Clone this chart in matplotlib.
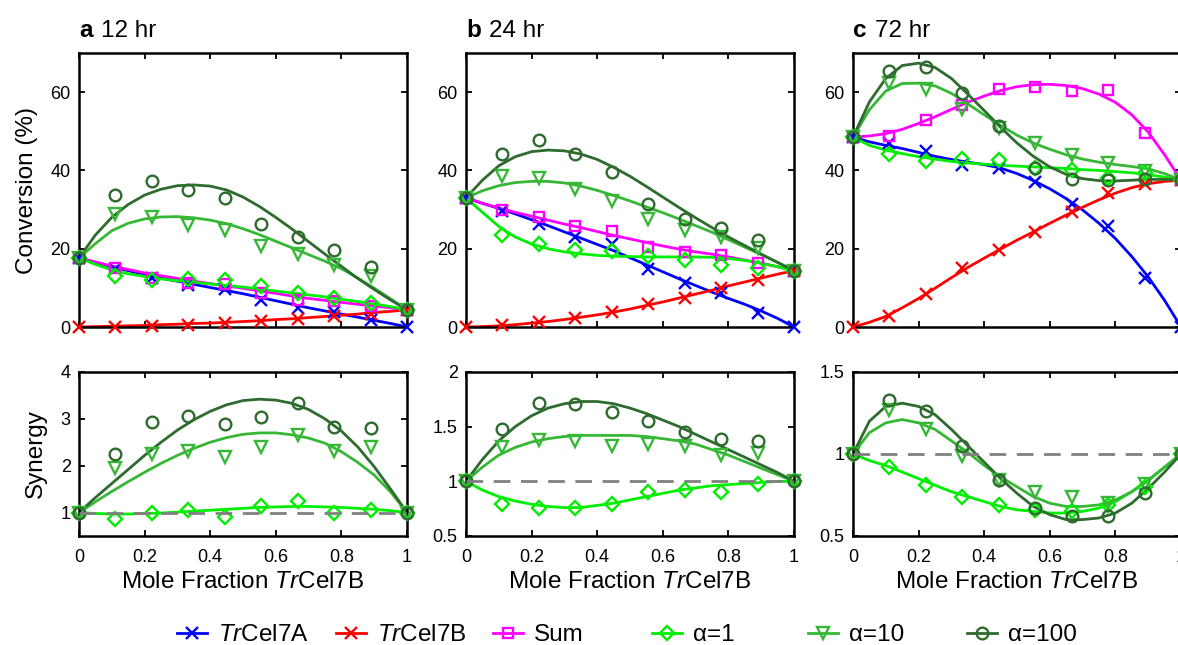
import numpy as np
import matplotlib.pyplot as plt
from matplotlib.lines import Line2D

plt.rcParams['font.family'] = ['Liberation Sans', 'DejaVu Sans']
plt.rcParams['mathtext.fontset'] = 'custom'
plt.rcParams['mathtext.rm'] = 'Liberation Sans'
plt.rcParams['mathtext.it'] = 'Liberation Sans:italic'
plt.rcParams['mathtext.bf'] = 'Liberation Sans:bold'

# mole fraction TrCel7B: measured points and fitted-curve samples
x_pts = [0, 1/9, 2/9, 3/9, 4/9, 5/9, 6/9, 7/9, 8/9, 1]
x_fit = [0.0, 0.05, 0.1, 0.15, 0.2, 0.25, 0.3, 0.35, 0.4, 0.45, 0.5,
         0.55, 0.6, 0.65, 0.7, 0.75, 0.8, 0.85, 0.9, 0.95, 1.0]

# ---- conversion (%) 12 hr
c12_cel7a = [17.6, 14.9, 12.4, 10.8, 9.7, 7.0, 4.9, 3.8, 1.9, 0.0]
c12_cel7a_fit = [17.6, 16.5, 15.4, 14.4, 13.4, 12.5, 11.7, 10.9, 10.1, 9.3, 8.5,
                 7.6, 6.7, 5.8, 4.9, 4.1, 3.3, 2.5, 1.7, 0.9, 0.0]
c12_cel7b = [0.0, 0.1, 0.3, 0.6, 1.1, 1.6, 2.0, 2.8, 3.4, 4.4]
c12_cel7b_fit = [0.0, 0.1, 0.2, 0.3, 0.4, 0.6, 0.7, 0.9, 1.0, 1.2, 1.4,
                 1.6, 1.9, 2.1, 2.4, 2.7, 3.0, 3.3, 3.7, 4.0, 4.4]
c12_sum = [17.6, 15.0, 12.6, 11.2, 11.0, 8.6, 7.0, 6.6, 5.4, 4.4]
c12_sum_fit = [17.6, 16.6, 15.6, 14.7, 13.8, 13.1, 12.4, 11.7, 11.1, 10.5, 9.9,
               9.2, 8.6, 7.9, 7.3, 6.8, 6.3, 5.8, 5.4, 4.9, 4.4]
c12_a1 = [17.6, 13.0, 11.9, 12.3, 11.9, 10.4, 8.8, 7.4, 6.2, 4.4]
c12_a1_fit = [17.6, 16.0, 14.6, 13.6, 12.9, 12.3, 11.8, 11.4, 11.0, 10.6, 10.2,
              9.7, 9.2, 8.7, 8.2, 7.7, 7.1, 6.5, 5.9, 5.2, 4.4]
c12_a10 = [17.6, 28.9, 28.1, 26.1, 24.9, 20.8, 18.7, 15.9, 13.0, 4.4]
c12_a10_fit = [17.6, 21.3, 24.6, 26.5, 27.6, 28.1, 28.2, 27.9, 27.3, 26.4, 25.1,
               23.6, 21.9, 20.2, 18.5, 16.8, 14.9, 12.5, 9.9, 7.2, 4.4]
c12_a100 = [17.6, 33.6, 37.3, 35.0, 32.9, 26.4, 23.0, 19.6, 15.3, 4.4]
c12_a100_fit = [17.6, 23.5, 28.0, 31.3, 33.7, 35.2, 36.1, 36.3, 36.0, 35.0, 33.2,
                30.8, 28.0, 25.0, 21.8, 18.6, 15.5, 12.4, 9.6, 6.9, 4.4]

# ---- conversion (%) 24 hr
c24_cel7a = [33.0, 29.6, 26.2, 23.0, 21.1, 14.7, 11.3, 8.7, 3.6, 0.0]
c24_cel7a_fit = [33.0, 31.6, 30.3, 28.9, 27.4, 25.9, 24.3, 22.7, 21.1, 19.5, 17.7,
                 15.9, 14.1, 12.3, 10.6, 8.9, 7.3, 5.8, 4.1, 2.2, 0.0]
c24_cel7b = [0.0, 0.5, 1.4, 2.3, 3.8, 5.9, 7.4, 9.9, 12.1, 14.4]
c24_cel7b_fit = [0.0, 0.1, 0.3, 0.6, 1.0, 1.4, 1.9, 2.5, 3.1, 3.8, 4.6,
                 5.5, 6.4, 7.4, 8.4, 9.4, 10.5, 11.5, 12.5, 13.5, 14.4]
c24_sum = [33.0, 30.0, 28.1, 25.7, 24.5, 20.5, 19.2, 18.5, 16.4, 14.4]
c24_sum_fit = [33.0, 31.6, 30.4, 29.3, 28.3, 27.3, 26.3, 25.4, 24.4, 23.4, 22.5,
               21.6, 20.7, 19.9, 19.2, 18.6, 17.9, 17.1, 16.3, 15.4, 14.4]
c24_a1 = [33.0, 23.6, 21.1, 19.6, 19.5, 18.1, 17.2, 15.9, 15.1, 14.4]
c24_a1_fit = [33.0, 29.3, 25.7, 23.0, 21.2, 20.0, 19.2, 18.7, 18.3, 18.1, 18.0,
              17.9, 17.9, 17.9, 17.9, 17.8, 17.5, 17.0, 16.3, 15.4, 14.4]
c24_a10 = [33.0, 38.7, 38.1, 35.3, 32.1, 27.5, 24.9, 23.0, 20.2, 14.4]
c24_a10_fit = [33.0, 34.8, 36.1, 36.9, 37.2, 37.2, 36.8, 36.0, 34.9, 33.6, 32.2,
               30.7, 29.2, 27.6, 25.9, 24.2, 22.3, 20.4, 18.5, 16.5, 14.4]
c24_a100 = [33.0, 44.3, 47.9, 44.1, 39.6, 31.5, 27.6, 25.2, 22.2, 14.4]
c24_a100_fit = [33.0, 37.5, 41.2, 43.5, 44.8, 45.2, 45.0, 44.2, 42.8, 40.8, 38.5,
                35.9, 33.2, 30.5, 27.9, 25.4, 23.0, 20.8, 18.6, 16.5, 14.4]

# ---- conversion (%) 72 hr
c72_cel7a = [48.5, 47.0, 44.9, 41.5, 40.7, 37.0, 31.3, 25.7, 12.5, 0.0]
c72_cel7a_fit = [48.5, 47.3, 46.4, 45.6, 44.6, 43.6, 42.8, 42.1, 41.5, 40.6, 39.2,
                 37.4, 35.3, 32.8, 29.9, 26.5, 22.6, 18.0, 12.8, 6.8, 0.0]
c72_cel7b = [0.0, 2.7, 8.5, 15.1, 19.6, 24.2, 29.3, 34.3, 36.6, 37.5]
c72_cel7b_fit = [0.0, 1.2, 2.7, 4.9, 7.3, 9.9, 12.6, 15.2, 17.6, 19.9, 22.2,
                 24.3, 26.5, 28.6, 30.6, 32.5, 34.2, 35.6, 36.6, 37.2, 37.5]
c72_sum = [48.5, 48.9, 53.0, 56.6, 60.7, 61.4, 60.3, 60.5, 49.6, 37.5]
c72_sum_fit = [48.5, 48.8, 49.4, 50.5, 52.0, 53.7, 55.6, 57.4, 59.0, 60.4, 61.4,
               61.9, 62.0, 61.7, 60.9, 59.5, 57.4, 54.2, 49.8, 44.0, 37.5]
c72_a1 = [48.5, 44.3, 42.4, 42.8, 42.6, 40.7, 40.2, 38.1, 39.4, 37.5]
c72_a1_fit = [48.5, 46.4, 45.2, 44.3, 43.5, 42.9, 42.3, 41.9, 41.6, 41.3, 41.1,
              40.9, 40.7, 40.5, 40.2, 40.0, 39.7, 39.4, 38.9, 38.3, 37.5]
c72_a10 = [48.5, 62.4, 60.7, 55.6, 50.9, 47.1, 43.9, 41.9, 39.8, 37.5]
c72_a10_fit = [48.5, 55.5, 60.3, 62.2, 62.3, 61.6, 59.7, 57.0, 54.2, 51.5, 49.0,
               47.0, 45.4, 44.0, 42.9, 42.1, 41.5, 41.0, 40.4, 39.2, 37.5]
c72_a100 = [48.5, 65.4, 66.4, 59.8, 51.3, 40.7, 37.9, 37.5, 37.7, 37.5]
c72_a100_fit = [48.5, 57.5, 63.5, 66.8, 67.4, 66.3, 63.5, 59.5, 55.3, 51.0, 47.0,
                43.6, 40.9, 39.0, 37.9, 37.4, 37.3, 37.5, 37.7, 37.7, 37.5]

# ---- synergy
s12_a1 = [1.0, 0.86, 0.99, 1.06, 0.91, 1.14, 1.24, 0.99, 1.06, 1.0]
s12_a1_fit = [1.0, 0.98, 0.97, 0.97, 0.98, 0.99, 1.01, 1.03, 1.05, 1.07, 1.09,
              1.11, 1.12, 1.13, 1.13, 1.12, 1.11, 1.09, 1.07, 1.04, 1.0]
s12_a10 = [1.0, 1.95, 2.26, 2.31, 2.19, 2.41, 2.66, 2.31, 2.41, 1.0]
s12_a10_fit = [1.0, 1.23, 1.45, 1.66, 1.86, 2.05, 2.22, 2.37, 2.50, 2.60, 2.67,
               2.70, 2.70, 2.66, 2.59, 2.48, 2.30, 2.07, 1.80, 1.44, 1.0]
s12_a100 = [1.0, 2.24, 2.93, 3.06, 2.88, 3.04, 3.33, 2.83, 2.80, 1.0]
s12_a100_fit = [1.0, 1.32, 1.62, 1.92, 2.22, 2.50, 2.76, 2.98, 3.16, 3.30, 3.39,
                3.42, 3.40, 3.33, 3.20, 3.00, 2.74, 2.40, 1.98, 1.50, 1.0]

s24_a1 = [1.0, 0.79, 0.76, 0.76, 0.79, 0.90, 0.92, 0.90, 0.98, 1.0]
s24_a1_fit = [1.0, 0.92, 0.86, 0.82, 0.79, 0.77, 0.76, 0.76, 0.78, 0.80, 0.83,
              0.86, 0.89, 0.92, 0.94, 0.96, 0.97, 0.98, 0.99, 1.0, 1.0]
s24_a10 = [1.0, 1.31, 1.38, 1.37, 1.32, 1.34, 1.32, 1.24, 1.26, 1.0]
s24_a10_fit = [1.0, 1.13, 1.24, 1.31, 1.36, 1.39, 1.41, 1.42, 1.42, 1.42, 1.42,
               1.41, 1.39, 1.37, 1.34, 1.29, 1.24, 1.18, 1.12, 1.06, 1.0]
s24_a100 = [1.0, 1.48, 1.72, 1.71, 1.63, 1.55, 1.45, 1.39, 1.37, 1.0]
s24_a100_fit = [1.0, 1.20, 1.37, 1.50, 1.60, 1.67, 1.71, 1.73, 1.73, 1.71, 1.67,
                1.62, 1.56, 1.50, 1.43, 1.36, 1.29, 1.22, 1.15, 1.08, 1.0]

s72_a1 = [1.0, 0.92, 0.81, 0.74, 0.69, 0.66, 0.65, 0.69, 0.80, 1.0]
s72_a1_fit = [1.0, 0.96, 0.93, 0.89, 0.85, 0.81, 0.77, 0.74, 0.71, 0.68, 0.66,
              0.65, 0.64, 0.64, 0.65, 0.67, 0.71, 0.77, 0.84, 0.92, 1.0]
s72_a10 = [1.0, 1.27, 1.15, 0.99, 0.84, 0.77, 0.74, 0.70, 0.82, 1.0]
s72_a10_fit = [1.0, 1.13, 1.19, 1.21, 1.19, 1.15, 1.08, 1.01, 0.93, 0.86, 0.80,
               0.74, 0.70, 0.68, 0.68, 0.69, 0.72, 0.77, 0.84, 0.92, 1.0]
s72_a100 = [1.0, 1.33, 1.26, 1.05, 0.84, 0.67, 0.62, 0.62, 0.76, 1.0]
s72_a100_fit = [1.0, 1.20, 1.29, 1.31, 1.29, 1.24, 1.15, 1.05, 0.95, 0.85, 0.76,
                0.68, 0.63, 0.60, 0.60, 0.61, 0.64, 0.70, 0.79, 0.89, 1.0]

panel_letters = ['a', 'b', 'c']
panel_times = ['12 hr', '24 hr', '72 hr']
syn_ylims = [(0.5, 4), (0.5, 2), (0.5, 1.5)]
syn_yticks = [[1, 2, 3, 4], [0.5, 1, 1.5, 2], [0.5, 1, 1.5]]
syn_yticklabels = [['1', '2', '3', '4'], ['0.5', '1', '1.5', '2'], ['0.5', '1', '1.5']]
conv_yticks = [0, 20, 40, 60]
x_ticks = [0, 0.2, 0.4, 0.6, 0.8, 1.0]
x_ticklabels = ['0', '0.2', '0.4', '0.6', '0.8', '1']

labels = [r'$Tr$Cel7A', r'$Tr$Cel7B', 'Sum', 'α=1', 'α=10', 'α=100']
colors = ['#0000ff', '#ff0000', '#ff00ff', '#00ee00', '#36b836', '#2e6b2e']
markers = ['x', 'x', 's', 'D', 'v', 'o']
msizes = [9.2, 9.2, 7.2, 7.0, 8.8, 8.4]

conv_pts = [[c12_cel7a, c12_cel7b, c12_sum, c12_a1, c12_a10, c12_a100],
            [c24_cel7a, c24_cel7b, c24_sum, c24_a1, c24_a10, c24_a100],
            [c72_cel7a, c72_cel7b, c72_sum, c72_a1, c72_a10, c72_a100]]
conv_fit = [[c12_cel7a_fit, c12_cel7b_fit, c12_sum_fit, c12_a1_fit, c12_a10_fit, c12_a100_fit],
            [c24_cel7a_fit, c24_cel7b_fit, c24_sum_fit, c24_a1_fit, c24_a10_fit, c24_a100_fit],
            [c72_cel7a_fit, c72_cel7b_fit, c72_sum_fit, c72_a1_fit, c72_a10_fit, c72_a100_fit]]
syn_pts = [[s12_a1, s12_a10, s12_a100], [s24_a1, s24_a10, s24_a100], [s72_a1, s72_a10, s72_a100]]
syn_fit = [[s12_a1_fit, s12_a10_fit, s12_a100_fit],
           [s24_a1_fit, s24_a10_fit, s24_a100_fit],
           [s72_a1_fit, s72_a10_fit, s72_a100_fit]]

W, H = 1178, 645
fig = plt.figure(figsize=(W / 100, H / 100), dpi=100)
lefts = [79, 466, 853]
LW = 2.0
MEW = 1.7
BIG = 17.5


def style(ax):
    ax.tick_params(direction='in', top=True, right=True, length=4, width=1.3,
                   labelsize=13, colors='black')
    ax.tick_params(axis='x', pad=9)
    ax.tick_params(axis='y', pad=6)
    for s in ax.spines.values():
        s.set_linewidth(1.8)
    ax.set_xlim(0, 1)
    ax.set_xticks(x_ticks)


def draw(ax, xs_fit, fit, xs_pts, pts, i):
    ax.plot(xs_fit, fit, color=colors[i], lw=LW, zorder=2)
    ax.plot(xs_pts, pts, ls='none', marker=markers[i], ms=msizes[i], mfc='none',
            mec=colors[i], mew=MEW, clip_on=False, zorder=3)


for k in range(3):
    ax1 = fig.add_axes([lefts[k] / W, 1 - 327 / H, 328 / W, 274 / H])
    ax2 = fig.add_axes([lefts[k] / W, 1 - 536 / H, 328 / W, 164 / H])

    for i in range(6):
        draw(ax1, x_fit, conv_fit[k][i], x_pts, conv_pts[k][i], i)
    style(ax1)
    ax1.set_ylim(0, 70)
    ax1.set_yticks(conv_yticks)
    ax1.set_xticklabels([])

    for j in range(3):
        draw(ax2, x_fit, syn_fit[k][j], x_pts, syn_pts[k][j], j + 3)
    ax2.plot([0, 1], [1, 1], color='#808080', lw=LW, dashes=(6, 3.8), zorder=4)
    style(ax2)
    ax2.set_ylim(*syn_ylims[k])
    ax2.set_yticks(syn_yticks[k])
    ax2.set_yticklabels(syn_yticklabels[k])
    ax2.set_xticklabels(x_ticklabels)
    ax2.set_xlabel(r'Mole Fraction $Tr$Cel7B', fontsize=BIG, labelpad=4)

    if k == 0:
        ax1.set_ylabel('Conversion (%)', fontsize=BIG, labelpad=9)
        ax2.set_ylabel('Synergy', fontsize=BIG, labelpad=10)

    t = ax1.text(0.0, 1.058, panel_letters[k], transform=ax1.transAxes,
                 fontsize=BIG, fontweight='bold', va='baseline', ha='left')
    ax1.annotate(panel_times[k], xy=(1, 0), xycoords=t, xytext=(6, 0),
                 textcoords='offset points', fontsize=BIG, va='bottom', ha='left')

# legend, one entry per slot along the bottom
leg_x = [177, 336, 493, 652, 808, 967]
for i in range(6):
    h = Line2D([], [], color=colors[i], lw=LW, marker=markers[i], ms=msizes[i],
               mfc='none', mec=colors[i], mew=MEW)
    fig.legend(handles=[h], labels=[labels[i]], loc='center left',
               bbox_to_anchor=(leg_x[i] / W, 1 - 635 / H), frameon=False,
               fontsize=BIG, handlelength=1.25, handletextpad=0.45,
               borderpad=0, borderaxespad=0)

fig.savefig('out.png', dpi=100)
